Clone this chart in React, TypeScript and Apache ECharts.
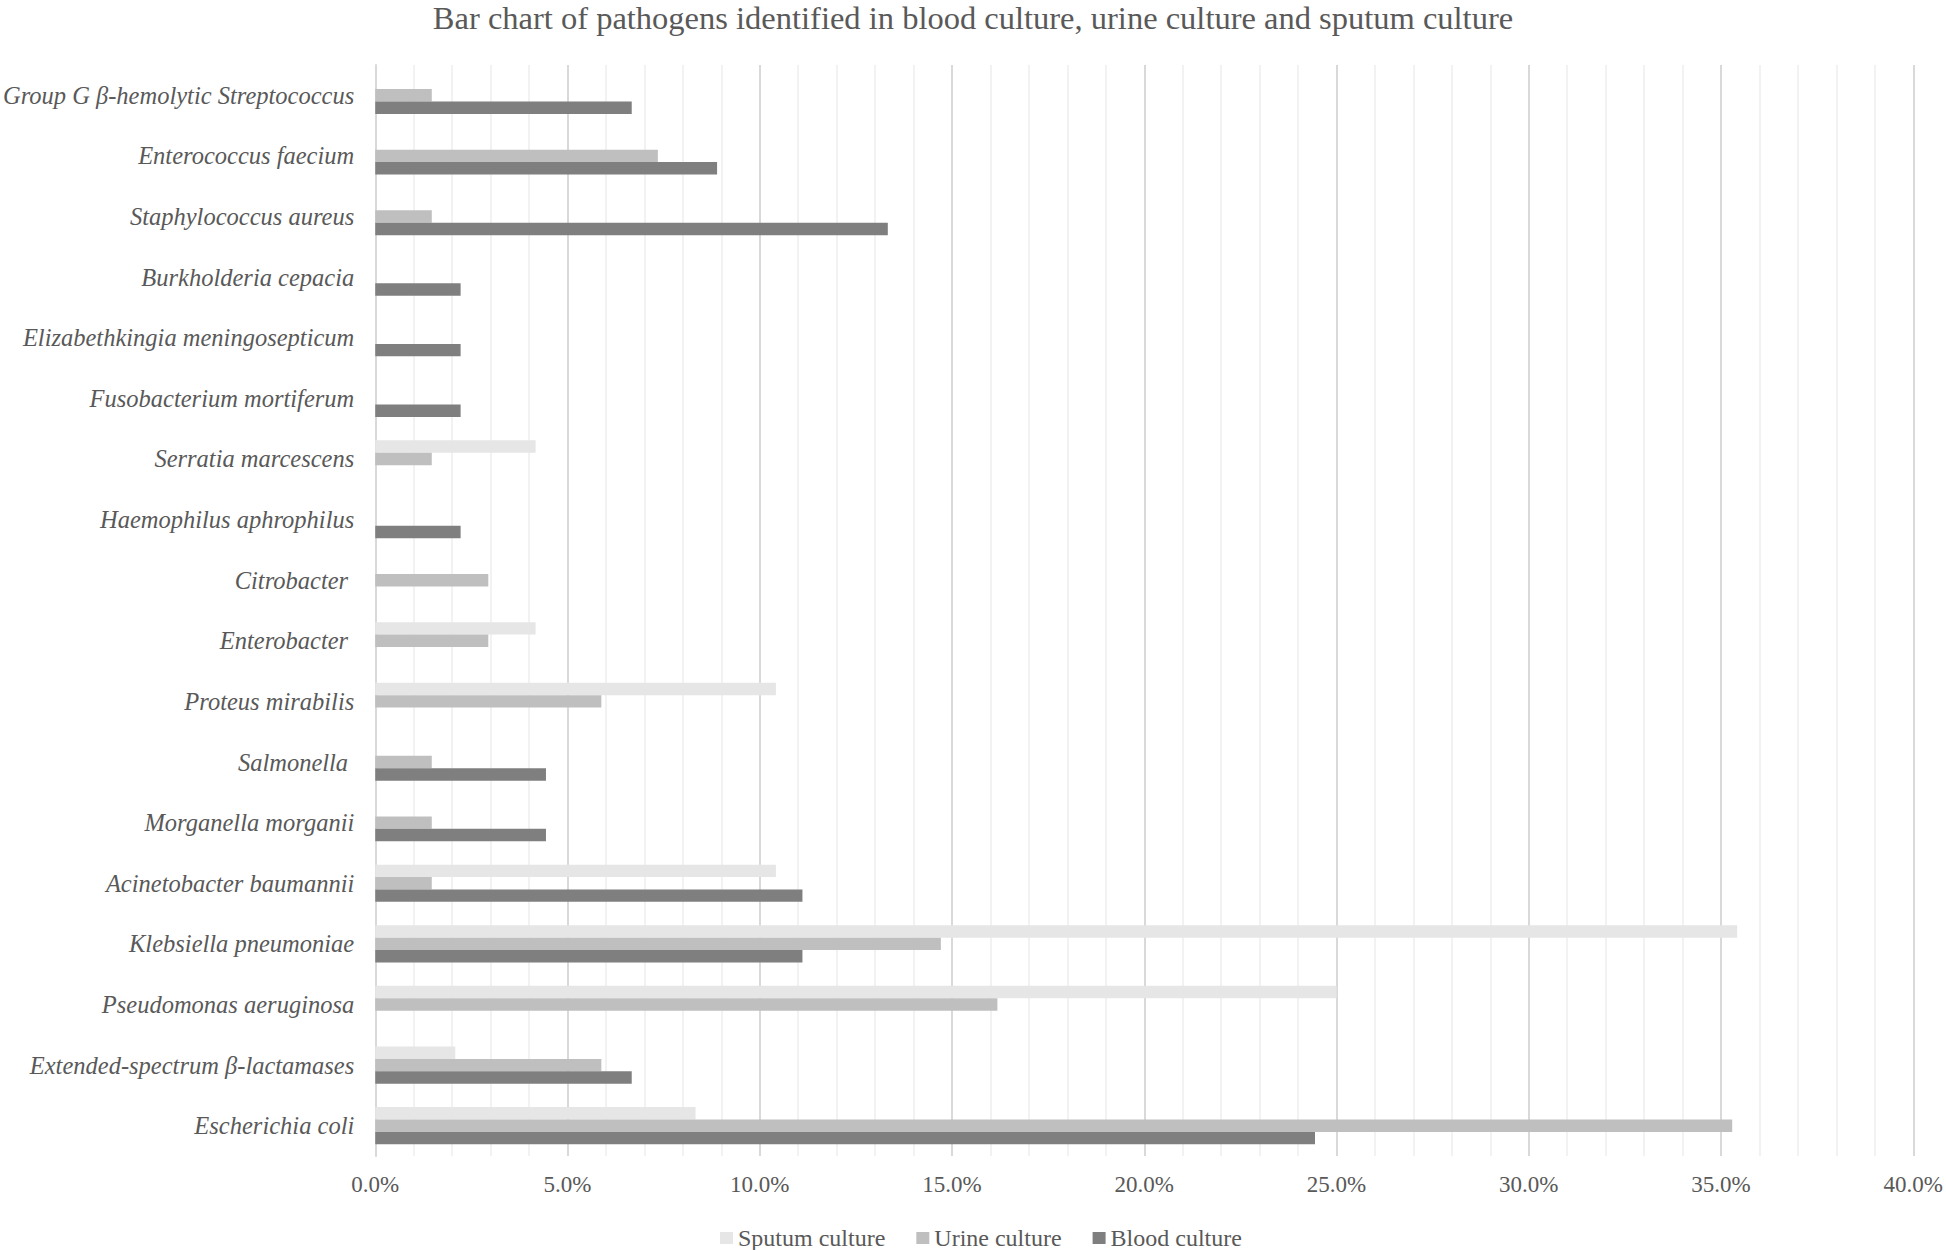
import React, { useEffect, useRef } from "react";
import * as echarts from "echarts";

const categories = [
  "Escherichia coli",
  "Extended-spectrum β-lactamases",
  "Pseudomonas aeruginosa",
  "Klebsiella pneumoniae",
  "Acinetobacter baumannii",
  "Morganella morganii",
  "Salmonella ",
  "Proteus mirabilis",
  "Enterobacter ",
  "Citrobacter ",
  "Haemophilus aphrophilus",
  "Serratia marcescens",
  "Fusobacterium mortiferum",
  "Elizabethkingia meningosepticum",
  "Burkholderia cepacia",
  "Staphylococcus aureus",
  "Enterococcus faecium",
  "Group G β-hemolytic Streptococcus",
];

const sputum = [8.33, 2.08, 25.0, 35.42, 10.42, 0, 0, 10.42, 4.17, 0, 0, 4.17, 0, 0, 0, 0, 0, 0];
const urine = [35.29, 5.88, 16.18, 14.71, 1.47, 1.47, 1.47, 5.88, 2.94, 2.94, 0, 1.47, 0, 0, 0, 1.47, 7.35, 1.47];
const blood = [24.44, 6.67, 0, 11.11, 11.11, 4.44, 4.44, 0, 0, 0, 2.22, 0, 2.22, 2.22, 2.22, 13.33, 8.89, 6.67];

const seriesNames = ["Sputum culture", "Urine culture", "Blood culture"];
const xTicks = { min: 0, max: 40, interval: 5 };

const FONT = "Liberation Serif";
const TEXT = "#595959";

export default function App() {
  const ref = useRef<HTMLDivElement>(null);
  useEffect(() => {
    const chart = echarts.init(ref.current!, undefined, { renderer: "svg" });
    const mk = (name: string, data: number[], color: string) => ({
      name,
      type: "bar",
      data: data.map((v) => (v === 0 ? null : v)),
      barWidth: 12.4,
      barGap: "0%",
      itemStyle: { color },
    });
    chart.setOption({
      animation: false,
      backgroundColor: "#ffffff",
      title: {
        text: "Bar chart of pathogens identified in blood culture, urine culture and sputum culture",
        left: "center",
        top: 1,
        padding: 0,
        textStyle: { fontFamily: FONT, fontSize: 32.5, fontWeight: "normal", color: TEXT },
      },
      legend: {
        data: seriesNames,
        top: 1221,
        left: 715,
        itemWidth: 13,
        itemHeight: 12,
        itemGap: 31,
        icon: "rect",
        textStyle: { fontFamily: FONT, fontSize: 24, color: TEXT },
      },
      grid: { left: 371, right: 31, top: 65, height: 1091, containLabel: false },
      xAxis: {
        type: "value",
        min: xTicks.min,
        max: xTicks.max,
        interval: xTicks.interval,
        axisLine: { show: false },
        axisTick: { show: false },
        axisLabel: {
          fontFamily: FONT,
          fontSize: 23,
          color: TEXT,
          margin: 17,
          formatter: (v: number) => v.toFixed(1) + "%",
        },
        splitLine: { show: true, lineStyle: { color: "#d9d9d9", width: 2 } },
        minorTick: { show: false, splitNumber: 5 },
        minorSplitLine: { show: true, lineStyle: { color: "#eeeeee", width: 1.5 } },
      },
      yAxis: {
        type: "category",
        data: categories,
        axisLine: { show: true, lineStyle: { color: "#d9d9d9", width: 2 } },
        axisTick: { show: false },
        axisLabel: {
          fontFamily: FONT,
          fontStyle: "italic",
          fontSize: 24.5,
          color: TEXT,
          margin: 21,
        },
      },
      series: [mk(seriesNames[0], sputum, "#e6e6e6"), mk(seriesNames[1], urine, "#bfbfbf"), mk(seriesNames[2], blood, "#7f7f7f")],
    });
    return () => chart.dispose();
  }, []);
  return <div ref={ref} style={{ position: "fixed", left: 0, top: 0, width: 1946, height: 1250 }} />;
}
